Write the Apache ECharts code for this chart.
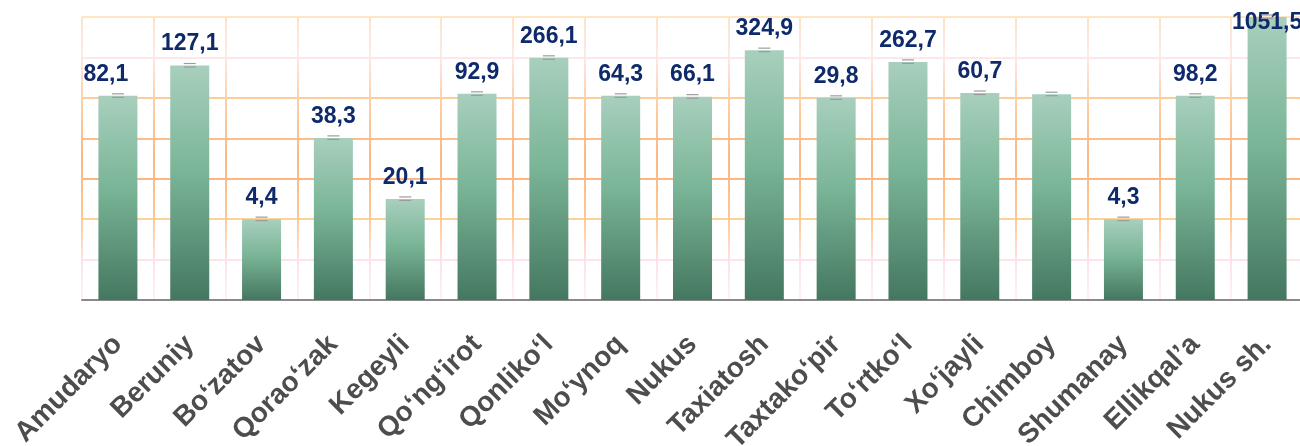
<!DOCTYPE html>
<html>
<head>
<meta charset="utf-8">
<script src="https://cdn.jsdelivr.net/npm/echarts@6/dist/echarts.min.js"></script>
<style>
    html, body { margin: 0; padding: 0; background: #fff; }
    #chart { width: 1300px; height: 446px; }
</style>
</head>
<body>
<div id="chart"></div>
<script>
// District names
const districts = [
    'Amudaryo', 'Beruniy', 'Bo‘zatov', 'Qorao‘zak', 'Kegeyli', 'Qo‘ng‘irot',
    'Qonliko‘l', 'Mo‘ynoq', 'Nukus', 'Taxiatosh', 'Taxtako‘pir', 'To‘rtko‘l',
    'Xo‘jayli', 'Chimboy', 'Shumanay', 'Ellikqal’a', 'Nukus sh.'
];

// Bar heights as drawn (axis units, 0..7)
const barHeights = [
    5.05, 5.8, 2.0, 4.01, 2.5, 5.1,
    5.99, 5.05, 5.03, 6.18, 5.0, 5.89,
    5.12, 5.09, 2.0, 5.05, 7.0
];

// Numbers printed above the bars (Chimboy has none)
const labelValues = [
    82.1, 127.1, 4.4, 38.3, 20.1, 92.9,
    266.1, 64.3, 66.1, 324.9, 29.8, 262.7,
    60.7, null, 4.3, 98.2, 1051.5
];

const fmt = (v) => (v == null ? '' : v.toFixed(1).replace('.', ','));

const chart = echarts.init(document.getElementById('chart'));

const barData = barHeights.map((h, i) => {
    let item = { value: h };
    // first and last labels sit off the usual spot in the original
    if (i === 0) item.label = { offset: [-12, 0] };
    if (i === barHeights.length - 1) item.label = { offset: [0, 27] };
    return item;
});

const option = {
    animation: false,
    grid: {
        left: 82,
        right: -3,
        top: 17,
        bottom: 146,
        containLabel: false,
        outerBoundsMode: 'none',
    },
    xAxis: [
        {
            type: 'category',
            data: districts,
            axisLine: { lineStyle: { color: '#8a8a8a', width: 2 } },
            axisTick: { length: 10, lineStyle: { color: '#8a8a8a', width: 1.5 } },
            axisLabel: {
                interval: 0,
                rotate: 45,
                margin: 40,
                color: '#4d4d4d',
                fontFamily: 'Liberation Sans',
                fontWeight: 'bold',
                fontSize: 28,
            },
            splitLine: {
                show: true,
                lineStyle: {
                    width: 2,
                    color: new echarts.graphic.LinearGradient(0, 0, 0, 1, [
                        { offset: 0, color: '#fde3c3' },
                        { offset: 0.14, color: '#fde9ea' },
                        { offset: 0.3, color: '#fdd0a3' },
                        { offset: 0.5, color: '#fcb586' },
                        { offset: 0.7, color: '#fdc890' },
                        { offset: 0.86, color: '#fde4e8' },
                        { offset: 1, color: '#fff2f2' },
                    ]),
                },
            },
        },
        {
            // short ticks under the bar centres
            type: 'category',
            data: districts,
            position: 'bottom',
            axisLine: { show: false },
            axisTick: {
                alignWithLabel: true,
                length: 6,
                lineStyle: { color: '#8a8a8a', width: 1.5 },
            },
            axisLabel: { show: false },
            splitLine: { show: false },
        },
    ],
    yAxis: {
        type: 'value',
        min: 0,
        max: 7,
        interval: 1,
        axisLabel: { show: false },
        axisLine: { show: false },
        axisTick: { show: false },
        splitLine: {
            lineStyle: {
                width: 2,
                color: [
                    '#fde3ea', '#fde3ea', '#fdd29a', '#fdb680',
                    '#fcbd8b', '#fdcc9d', '#fde6ec', '#fde5c5',
                ],
            },
        },
    },
    series: [
        {
            name: 'bars',
            type: 'bar',
            barWidth: 39,
            data: barData,
            itemStyle: {
                color: new echarts.graphic.LinearGradient(0, 0, 0, 1, [
                    { offset: 0, color: '#a8cfbd' },
                    { offset: 0.45, color: '#7ab597' },
                    { offset: 1, color: '#447760' },
                ]),
            },
            label: {
                show: true,
                position: 'top',
                distance: 10,
                color: '#0f2a6b',
                fontFamily: 'Liberation Sans',
                fontWeight: 'bold',
                fontSize: 23,
                formatter: (p) => fmt(labelValues[p.dataIndex]),
            },
        },
        {
            // small error-bar caps on top of each bar
            name: 'caps',
            type: 'custom',
            z: 5,
            clip: false,
            data: barHeights.map((h, i) => [i, h]),
            renderItem: (params, api) => {
                const pt = api.coord([api.value(0), api.value(1)]);
                const style = { stroke: '#9c9c9c', lineWidth: 1.2 };
                return {
                    type: 'group',
                    children: [
                        {
                            type: 'line',
                            shape: { x1: pt[0] - 6, y1: pt[1] - 2, x2: pt[0] + 6, y2: pt[1] - 2 },
                            style,
                        },
                        {
                            type: 'line',
                            shape: { x1: pt[0] - 6, y1: pt[1] + 1.5, x2: pt[0] + 6, y2: pt[1] + 1.5 },
                            style,
                        },
                    ],
                };
            },
        },
    ],
};

chart.setOption(option);
</script>
</body>
</html>
